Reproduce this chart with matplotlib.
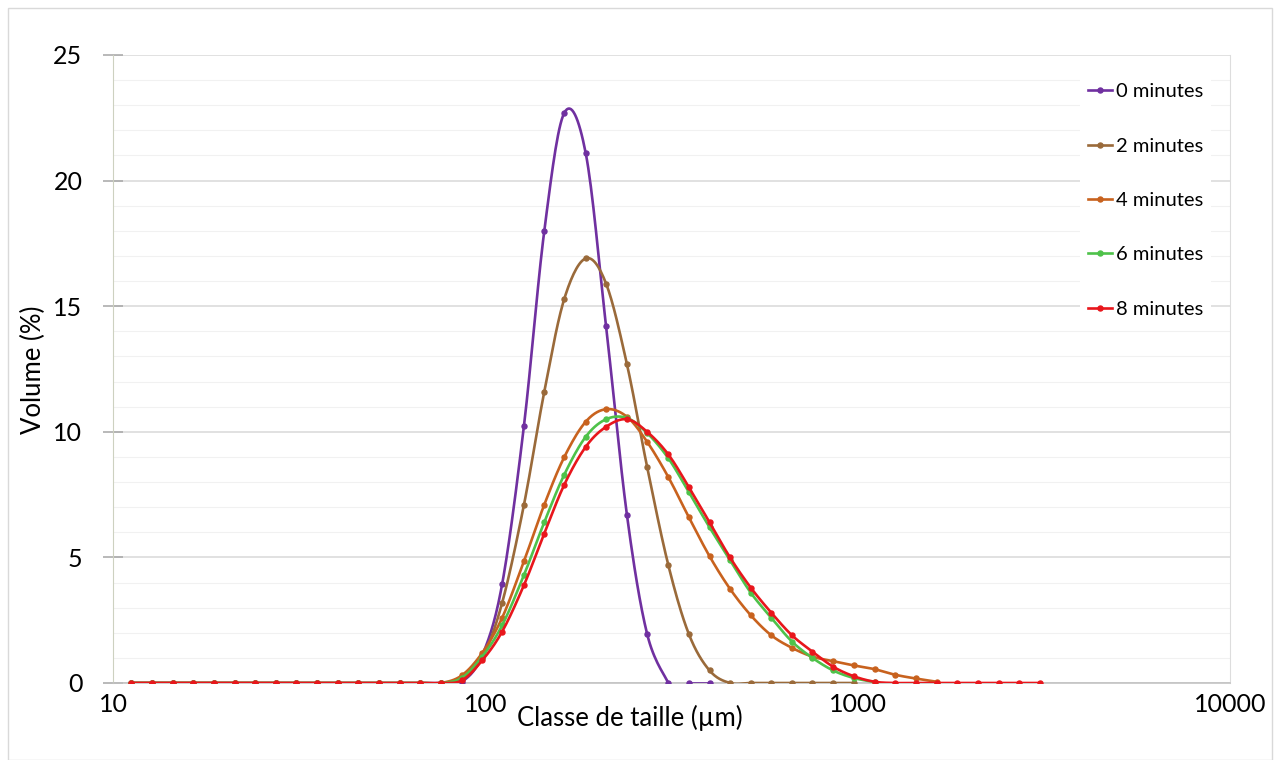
import matplotlib
matplotlib.use("Agg")
import matplotlib.pyplot as plt
import numpy as np
from matplotlib.ticker import FixedLocator, MultipleLocator, NullFormatter, NullLocator
from matplotlib.lines import Line2D
from matplotlib.patches import Rectangle

plt.rcParams['font.family'] = ['Lato', 'DejaVu Sans']

# classes de taille (um)
sizes = [11.2, 12.7, 14.5, 16.4, 18.7, 21.2, 24.1, 27.4, 31.1, 35.3, 40.1, 45.6,
         51.8, 58.9, 66.9, 76.0, 86.4, 98.1, 111, 127, 144, 163, 186, 211, 240,
         272, 310, 352, 400, 454, 516, 586, 666, 756, 859, 976, 1110, 1260, 1430,
         1630, 1850, 2100, 2390, 2710, 3080]

zeros = [0.0] * 16
vol_0 = zeros + [0.05, 1.1, 3.95, 10.25, 18.0, 22.7, 21.1, 14.2, 6.7, 1.95, 0.0,
                 0.0, 0.0]
vol_2 = zeros + [0.15, 1.0, 3.2, 7.1, 11.6, 15.3, 16.9, 15.9, 12.7, 8.6, 4.7, 1.95,
                 0.5, 0.0, 0.0, 0.0, 0.0, 0.0, 0.0, 0.0]
vol_4 = zeros + [0.3, 1.2, 2.6, 4.85, 7.1, 9.0, 10.4, 10.9, 10.6, 9.6, 8.2, 6.6,
                 5.05, 3.75, 2.7, 1.9, 1.4, 1.05, 0.87, 0.7, 0.55, 0.33, 0.18, 0.05]
vol_6 = zeros + [0.2, 1.05, 2.3, 4.3, 6.4, 8.3, 9.8, 10.5, 10.55, 9.95, 8.95, 7.6,
                 6.2, 4.9, 3.6, 2.6, 1.65, 1.0, 0.5, 0.2, 0.04]
vol_8 = zeros + [0.1, 0.9, 2.05, 3.9, 5.95, 7.9, 9.4, 10.2, 10.5, 10.0, 9.1, 7.8,
                 6.4, 5.0, 3.8, 2.8, 1.9, 1.25, 0.65, 0.27, 0.05, 0.0, 0.0, 0.0,
                 0.0, 0.0, 0.0, 0.0, 0.0]

labels = ["0 minutes", "2 minutes", "4 minutes", "6 minutes", "8 minutes"]
series = [vol_0, vol_2, vol_4, vol_6, vol_8]
colors = ['#7030A0', '#9A6A3A', '#C8621E', '#4EC24A', '#E8161C']


def smooth(xs, ys, n=16):
    # courbe lissee type Excel (bezier, tension 1/6) dans l'espace log(x)
    P = np.column_stack([np.log10(xs), ys])
    Pe = np.vstack([P[0], P, P[-1]])
    t = np.linspace(0, 1, n, endpoint=False)[:, None]
    out = []
    for i in range(len(P) - 1):
        p0, p3 = Pe[i + 1], Pe[i + 2]
        c1 = p0 + (Pe[i + 2] - Pe[i]) / 6
        c2 = p3 - (Pe[i + 3] - Pe[i + 1]) / 6
        out.append((1 - t)**3 * p0 + 3 * (1 - t)**2 * t * c1 + 3 * (1 - t) * t**2 * c2 + t**3 * p3)
    out.append(P[-1:])
    pts = np.vstack(out)
    return 10**pts[:, 0], pts[:, 1]


fig = plt.figure(figsize=(12.77, 7.6), dpi=100)
ax = fig.add_axes([113 / 1277, 1 - 683 / 760, 1117 / 1277, 628 / 760])

for i, (vals, col) in enumerate(zip(series, colors)):
    x = np.array(sizes[:len(vals)])
    y = np.array(vals)
    if i == 0:
        # la serie 0 minutes est coupee apres 310 um
        parts = [(x[:27], y[:27]), (x[27:], y[27:])]
    else:
        parts = [(x, y)]
    for px, py in parts:
        sx, sy = smooth(px, py)
        ax.plot(sx, sy, color=col, lw=1.9, solid_capstyle='round', zorder=3 + i)
    ax.plot(x, y, ls='none', marker='o', ms=3.6, color=col, zorder=3 + i)

ax.set_xscale('log')
ax.set_xlim(10, 10000)
ax.set_ylim(0, 25)
ax.xaxis.set_major_locator(FixedLocator([10, 100, 1000, 10000]))
ax.xaxis.set_minor_locator(NullLocator())
ax.set_xticklabels(["10", "100", "1000", "10000"])
ax.yaxis.set_major_locator(MultipleLocator(5))
ax.yaxis.set_minor_locator(MultipleLocator(1))
ax.yaxis.set_minor_formatter(NullFormatter())

ax.grid(which='major', axis='y', color='#D9D9D9', lw=1.1, zorder=0)
ax.grid(which='minor', axis='y', color='#F1F1F1', lw=0.8, zorder=0)
ax.set_axisbelow(True)

ax.tick_params(axis='x', which='both', length=0, pad=7, labelsize=18, colors='black')
ax.tick_params(axis='y', which='major', direction='inout', length=14, width=1.1,
               color='#A6A6A6', pad=15, labelsize=18)
ax.tick_params(axis='y', which='minor', length=0)

ax.spines['top'].set_visible(False)
ax.spines['left'].set_color('#CDD1C0')
ax.spines['right'].set_color('#DDDDDD')
ax.spines['bottom'].set_color('#BFBFBF')
ax.spines['bottom'].set_linewidth(1.1)

ax.set_xlabel("Classe de taille (µm)", fontsize=18.5)
ax.xaxis.set_label_coords((630 - 113) / 1117, (683 - 718) / 628)
ax.xaxis.label.set_va('center')
ax.set_ylabel("Volume (%)", fontsize=18.5)
ax.yaxis.set_label_coords((33 - 113) / 1117, (683 - 370) / 628)
ax.yaxis.label.set_va('center')

handles = [Line2D([], [], color=c, lw=1.9, marker='o', ms=3.6) for c in colors]
leg = ax.legend(handles, labels, loc='upper left', bbox_to_anchor=(0.866, 0.968),
                fontsize=14.5, frameon=True, fancybox=False, framealpha=1,
                facecolor='white', edgecolor='none', borderaxespad=0,
                borderpad=0.4, handlelength=1.15, handletextpad=0.2,
                labelspacing=1.85)
leg.set_zorder(10)

fig.patches.append(Rectangle((8 / 1277, 0), 1264 / 1277, 1 - 8 / 760,
                             transform=fig.transFigure, fill=False,
                             edgecolor='#D9D9D9', lw=1))

fig.savefig("out.png", dpi=100)
